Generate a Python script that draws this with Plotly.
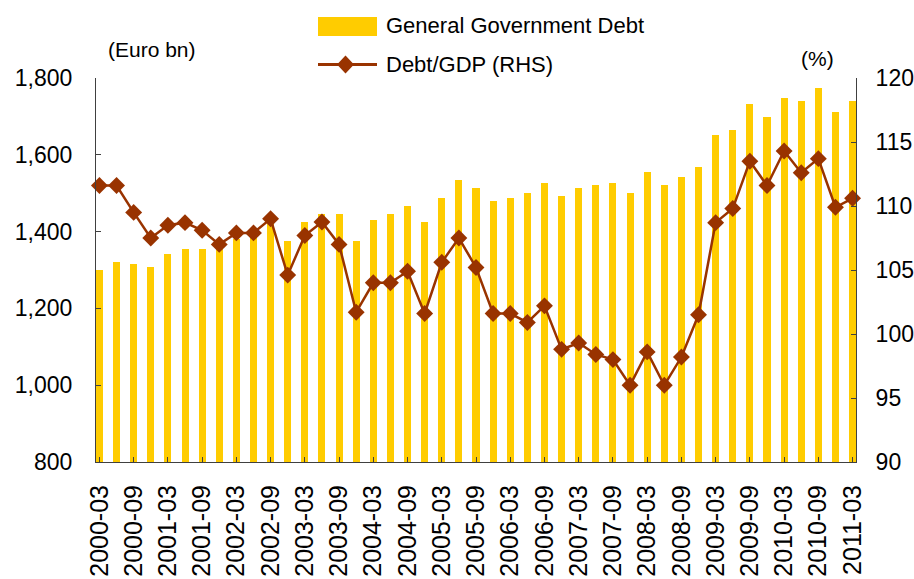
import plotly.graph_objects as go

# Quarterly observations, 2000-03 to 2011-03
years = list(range(2000, 2012))
months = ["03", "06", "09", "12"]
quarters = [f"{y}-{m}" for y in years for m in months][:45]

# General government debt (Euro bn, left axis)
debt = [1300, 1321, 1316, 1308, 1342, 1355, 1355, 1360, 1380, 1385,
        1420, 1376, 1425, 1446, 1446, 1375, 1430, 1446, 1467, 1425,
        1488, 1534, 1514, 1480, 1488, 1501, 1527, 1493, 1514, 1521,
        1527, 1501, 1555, 1521, 1542, 1568, 1652, 1665, 1732, 1698,
        1748, 1741, 1774, 1712, 1741]

# Debt to GDP ratio (%, right axis)
debt_gdp = [111.6, 111.6, 109.5, 107.5, 108.5, 108.7, 108.1, 107.0, 107.9, 107.9,
            109.0, 104.6, 107.7, 108.75, 107.0, 101.7, 104.0, 104.0, 104.9, 101.6,
            105.6, 107.5, 105.2, 101.6, 101.6, 100.9, 102.2, 98.8, 99.3, 98.4,
            98.0, 96.0, 98.6, 96.0, 98.2, 101.5, 108.7, 109.8, 113.5, 111.6,
            114.3, 112.6, 113.7, 109.9, 110.6]

tick_labels = ["2000-03", "2000-09", "2001-03", "2001-09", "2002-03", "2002-09",
               "2003-03", "2003-09", "2004-03", "2004-09", "2005-03", "2005-09",
               "2006-03", "2006-09", "2007-03", "2007-09", "2008-03", "2008-09",
               "2009-03", "2009-09", "2010-03", "2010-09", "2011-03"]

BAR = "#FFCC00"
LINE = "#993300"
FONT = "Liberation Sans, Arial, sans-serif"

fig = go.Figure()
fig.add_trace(go.Bar(x=quarters, y=debt, marker=dict(color=BAR, line=dict(width=0)),
                     width=0.41, name="General Government Debt"))
fig.add_trace(go.Scatter(x=quarters, y=debt_gdp, yaxis="y2", mode="lines+markers",
                         line=dict(color=LINE, width=2.5),
                         marker=dict(symbol="diamond", size=13, color=LINE),
                         name="Debt/GDP (RHS)", cliponaxis=False))

# plot area geometry (pixels) used for the hand-drawn legend
W, H = 914, 579
L, R, T, B = 96, 58, 78, 117
pw, ph = W - L - R, H - T - B


def px(x):
    return (x - L) / pw


def py(y):
    return (H - B - y) / ph


shapes = [
    dict(type="rect", xref="paper", yref="paper", x0=px(318), x1=px(377),
         y0=py(36), y1=py(17), fillcolor=BAR, line=dict(width=0)),
    dict(type="line", xref="paper", yref="paper", x0=px(318), x1=px(377),
         y0=py(64.5), y1=py(64.5), line=dict(color=LINE, width=3)),
    dict(type="path", xref="paper", yref="paper",
         path=(f"M {px(345.5)},{py(55.5)} L {px(354)},{py(64.5)} "
               f"L {px(345.5)},{py(73.5)} L {px(337)},{py(64.5)} Z"),
         fillcolor=LINE, line=dict(width=0)),
]

annotations = [
    dict(text="General Government Debt", x=px(384), y=py(26), xref="paper", yref="paper",
         xanchor="left", yanchor="middle", showarrow=False, font=dict(size=22, color="black")),
    dict(text="Debt/GDP (RHS)", x=px(384), y=py(65), xref="paper", yref="paper",
         xanchor="left", yanchor="middle", showarrow=False, font=dict(size=22, color="black")),
    dict(text="(Euro bn)", x=px(152), y=py(49), xref="paper", yref="paper",
         xanchor="center", yanchor="middle", showarrow=False, font=dict(size=21, color="black")),
    dict(text="(%)", x=px(817), y=py(58), xref="paper", yref="paper",
         xanchor="center", yanchor="middle", showarrow=False, font=dict(size=21, color="black")),
]

fig.update_layout(
    width=W, height=H,
    margin=dict(l=L, r=R, t=T, b=B, pad=0, autoexpand=False),
    paper_bgcolor="white", plot_bgcolor="white",
    font=dict(family=FONT, color="black", size=22),
    showlegend=False,
    bargap=0,
    shapes=shapes,
    annotations=annotations,
    xaxis=dict(
        type="category", categoryorder="array", categoryarray=quarters,
        range=[-0.2, len(quarters) - 0.8], automargin=False,
        tickmode="array", tickvals=tick_labels, ticktext=tick_labels,
        tickangle=-90, ticks="inside", ticklen=5, tickcolor="#404040",
        showline=True, linecolor="#404040", linewidth=1,
        showgrid=False, zeroline=False,
        tickfont=dict(size=25), ticklabelstandoff=12,
    ),
    yaxis=dict(
        range=[800, 1800], dtick=200, tickformat=",", automargin=False,
        ticks="inside", ticklen=5, tickcolor="#404040",
        showline=True, linecolor="#404040", linewidth=1,
        showgrid=False, zeroline=False,
        tickfont=dict(size=23), ticklabelstandoff=18,
    ),
    yaxis2=dict(
        range=[90, 120], dtick=5, overlaying="y", side="right", automargin=False,
        ticks="inside", ticklen=5, tickcolor="#404040",
        showline=True, linecolor="#404040", linewidth=1,
        showgrid=False, zeroline=False,
        tickfont=dict(size=23), ticklabelstandoff=14,
    ),
)

fig.write_html("out.html")
